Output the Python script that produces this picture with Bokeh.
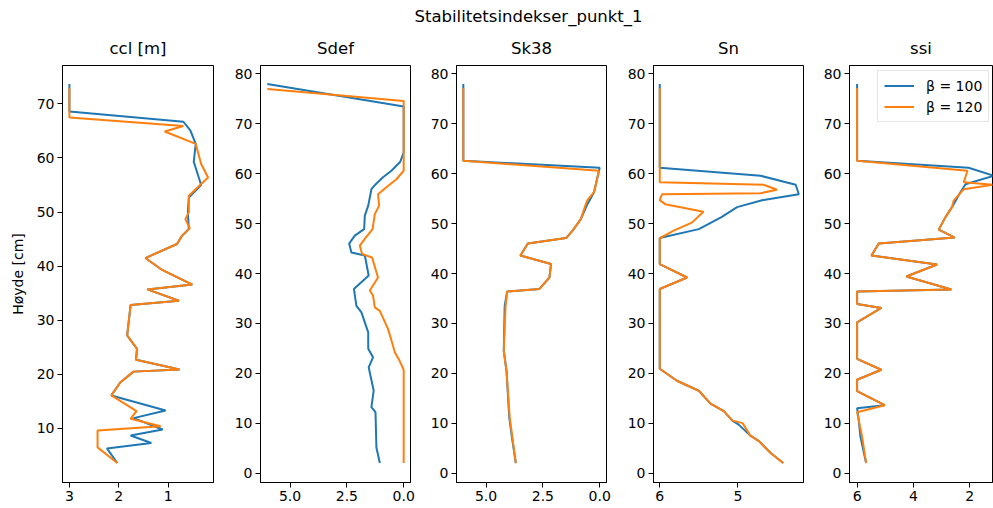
from bokeh.plotting import figure
from bokeh.layouts import row, column
from bokeh.models import Range1d, FixedTicker, NumeralTickFormatter, Legend, LegendItem
from bokeh.embed import file_html
from bokeh.resources import INLINE
from bokeh.core.properties import value

BLUE = "#1f77b4"
ORANGE = "#ff7f0e"
FONT = "DejaVu Sans"

suptitle = "Stabilitetsindekser_punkt_1"
panel_titles = ["ccl [m]", "Sdef", "Sk38", "Sn", "ssi"]
series_labels = ["β = 100", "β = 120"]
y_label = "Høyde [cm]"

# ---- ccl [m]
ccl_b100_y = [73.7, 68.6, 66.7, 65.1, 62.6, 59.3, 55.0, 52.7, 50.0, 46.9, 45.6, 44.1, 41.5, 39.3, 36.6, 35.7, 33.6, 32.8,
              27.2, 24.7, 22.7, 20.9, 20.5, 18.5, 16.1, 13.3, 11.9, 9.8, 8.7, 7.3, 6.3, 3.6]
ccl_b100_x = [3.0, 3.0, 0.69, 0.55, 0.44, 0.48, 0.33, 0.58, 0.60, 0.58, 0.72, 0.82, 1.46, 1.12, 0.51, 1.42, 0.78, 1.76,
              1.83, 1.63, 1.65, 0.77, 1.70, 1.97, 2.15, 1.05, 1.70, 1.11, 1.76, 1.34, 2.24, 2.03]
ccl_b120_y = [73.0, 67.5, 65.9, 64.9, 62.6, 58.9, 56.4, 53.0, 50.0, 48.7, 47.0, 45.6, 44.1, 41.5, 39.3, 36.6, 35.7, 33.6,
              32.8, 27.2, 24.7, 22.7, 20.9, 20.5, 18.5, 16.1, 13.2, 11.8, 10.4, 9.6, 6.5, 3.6]
ccl_b120_x = [3.0, 3.0, 0.69, 1.07, 0.44, 0.33, 0.19, 0.58, 0.58, 0.65, 0.56, 0.72, 0.82, 1.46, 1.12, 0.51, 1.42, 0.78,
              1.76, 1.83, 1.63, 1.65, 0.77, 1.70, 1.97, 2.15, 1.64, 1.76, 1.15, 2.43, 2.43, 2.03]

# ---- Sdef
sdef_b100_y = [78.0, 73.5, 64.3, 62.4, 60.6, 59.3, 57.9, 56.9, 53.6, 51.6, 48.9, 47.6, 46.0, 44.2, 43.6, 39.6, 36.9,
               33.5, 32.2, 28.2, 24.9, 23.2, 21.2, 16.5, 13.2, 12.2, 5.1, 2.0]
sdef_b100_x = [6.0, 0.0, 0.0, 0.15, 0.54, 0.91, 1.23, 1.42, 1.56, 1.71, 1.74, 2.15, 2.40, 2.30, 1.71, 1.54, 2.19,
               2.08, 1.86, 1.56, 1.56, 1.35, 1.54, 1.32, 1.42, 1.24, 1.20, 1.05]
sdef_b120_y = [77.0, 74.6, 60.6, 58.9, 57.3, 55.9, 53.6, 51.9, 48.9, 47.2, 45.6, 43.9, 43.2, 39.2, 36.6, 35.6, 33.2,
               32.5, 28.9, 25.5, 24.2, 22.5, 20.7, 2.0]
sdef_b120_x = [6.0, 0.0, 0.0, 0.32, 0.76, 1.13, 1.08, 1.27, 1.37, 1.67, 1.93, 1.83, 1.39, 1.13, 1.49, 1.35, 1.27,
               1.05, 0.69, 0.47, 0.39, 0.18, 0.0, 0.0]

# ---- Sk38
sk38_b100_y = [78.0, 62.6, 61.2, 56.3, 53.9, 50.9, 48.6, 47.1, 46.0, 43.6, 41.9, 39.2, 36.9, 36.4, 33.5, 24.5, 20.5,
               11.2, 7.1, 2.0]
sk38_b100_x = [6.0, 6.0, 0.0, 0.25, 0.54, 0.83, 1.19, 1.48, 3.16, 3.49, 2.14, 2.21, 2.65, 4.07, 4.18, 4.22, 4.10,
               3.98, 3.86, 3.69]
sk38_b120_y = [77.2, 62.6, 60.6, 56.3, 54.7, 53.9, 50.9, 48.6, 47.1, 46.0, 43.6, 41.9, 39.2, 36.9, 36.4, 33.5, 24.5,
               20.5, 11.2, 7.1, 2.0]
sk38_b120_x = [6.0, 6.0, 0.03, 0.25, 0.54, 0.61, 0.83, 1.19, 1.48, 3.16, 3.49, 2.14, 2.21, 2.65, 4.07, 4.14, 4.22,
               4.10, 3.96, 3.84, 3.69]

# ---- Sn
sn_b100_y = [78.0, 61.2, 59.6, 57.8, 55.9, 54.7, 53.3, 51.3, 48.9, 47.1, 41.9, 39.2, 36.9, 20.9, 18.5, 16.5, 13.9,
             12.4, 10.5, 9.7, 7.5, 6.4, 4.0, 2.0]
sn_b100_x = [6.0, 6.0, 4.71, 4.26, 4.22, 4.69, 5.01, 5.21, 5.50, 6.0, 6.0, 5.65, 6.0, 6.0, 5.78, 5.50, 5.35,
             5.18, 5.07, 4.99, 4.84, 4.73, 4.58, 4.42]
sn_b120_y = [77.2, 58.3, 57.8, 56.8, 56.1, 55.9, 54.7, 53.9, 52.4, 50.2, 48.6, 47.1, 41.9, 39.2, 36.9, 20.9, 18.5,
             16.5, 13.9, 12.4, 10.5, 10.0, 7.5, 6.4, 4.0, 2.0]
sn_b120_x = [6.0, 6.0, 4.67, 4.50, 4.71, 5.97, 6.0, 5.93, 5.44, 5.59, 5.82, 6.0, 6.0, 5.65, 6.0, 6.0, 5.78,
             5.50, 5.35, 5.18, 5.07, 4.94, 4.84, 4.73, 4.58, 4.42]

# ---- ssi
ssi_b100_y = [78.0, 62.6, 61.2, 59.6, 57.9, 56.3, 53.3, 51.3, 48.8, 47.2, 46.0, 43.6, 41.8, 39.4, 36.8, 36.4, 33.9,
              33.1, 30.2, 22.9, 20.7, 18.7, 16.4, 13.6, 13.0, 10.5, 7.2, 2.0]
ssi_b100_x = [6.0, 6.0, 2.04, 1.15, 2.15, 2.33, 2.63, 2.86, 3.10, 2.53, 5.23, 5.49, 3.16, 4.25, 2.65, 6.0, 6.0,
              5.14, 6.0, 6.0, 5.14, 6.0, 6.0, 5.02, 6.0, 5.94, 5.88, 5.68]
ssi_b120_y = [77.2, 62.6, 60.6, 58.3, 57.8, 56.9, 54.6, 53.3, 51.3, 48.8, 47.2, 46.0, 43.6, 41.8, 39.4, 36.8, 36.4,
              33.9, 33.1, 30.2, 22.9, 20.7, 18.7, 16.4, 13.6, 12.2, 7.2, 2.0]
ssi_b120_x = [6.0, 6.0, 2.08, 2.21, 1.18, 2.21, 2.57, 2.63, 2.86, 3.10, 2.53, 5.23, 5.49, 3.16, 4.25, 2.65, 6.0,
              6.0, 5.14, 6.0, 6.0, 5.14, 6.0, 6.0, 5.02, 6.0, 5.82, 5.68]

# ticks
ccl_xticks = [3, 2, 1]
ccl_yticks = [10, 20, 30, 40, 50, 60, 70]
s_xticks = [5.0, 2.5, 0.0]
sn_xticks = [6, 5]
ssi_xticks = [6, 4, 2]
yticks_80 = [0, 10, 20, 30, 40, 50, 60, 70, 80]

series = [
    (ccl_b100_x, ccl_b100_y, ccl_b120_x, ccl_b120_y),
    (sdef_b100_x, sdef_b100_y, sdef_b120_x, sdef_b120_y),
    (sk38_b100_x, sk38_b100_y, sk38_b120_x, sk38_b120_y),
    (sn_b100_x, sn_b100_y, sn_b120_x, sn_b120_y),
    (ssi_b100_x, ssi_b100_y, ssi_b120_x, ssi_b120_y),
]

# layout: (fig width, left border, right border, x range, y range, xticks, yticks, formatter)
layout = [
    (222, 62, 9, (3.14, 0.08), (0.0, 77.1), ccl_xticks, ccl_yticks, None),
    (198, 38, 10, (6.3, -0.3), (-1.9, 81.7), s_xticks, yticks_80, "0.0"),
    (196, 36, 10, (6.3, -0.3), (-1.9, 81.7), s_xticks, yticks_80, "0.0"),
    (197, 37, 10, (6.08, 4.16), (-1.9, 81.7), sn_xticks, yticks_80, None),
    (180, 36, 1, (6.27, 1.19), (-1.9, 81.7), ssi_xticks, yticks_80, None),
]

TOP_H = 27
H = 481
figs = []
for i, (w, lb, rb, xr, yr, xt, yt, fmt) in enumerate(layout):
    p = figure(width=w, height=H, x_range=Range1d(*xr), y_range=Range1d(*yr),
               output_backend="svg", toolbar_location=None, title=panel_titles[i],
               min_border_left=lb, min_border_right=rb, min_border_top=38, min_border_bottom=26)
    p.title.align = "center"
    p.title.text_font = FONT
    p.title.text_font_size = "16.5px"
    p.title.text_font_style = "normal"
    p.title.text_color = "black"
    p.title.standoff = 16
    p.grid.visible = False
    p.outline_line_color = "black"
    p.outline_line_width = 1
    p.background_fill_color = "white"
    p.border_fill_color = "white"
    for ax in (p.xaxis[0], p.yaxis[0]):
        ax.major_label_text_font = FONT
        ax.major_label_text_font_size = "14px"
        ax.major_label_text_color = "black"
        ax.major_tick_out = 5
        ax.major_tick_in = 0
        ax.minor_tick_out = 0
        ax.minor_tick_in = 0
        ax.major_label_standoff = 3
        ax.axis_line_color = "black"
        ax.major_tick_line_color = "black"
    p.xaxis[0].ticker = FixedTicker(ticks=xt)
    p.yaxis[0].ticker = FixedTicker(ticks=yt)
    if fmt:
        p.xaxis[0].formatter = NumeralTickFormatter(format=fmt)
    if i == 0:
        p.yaxis[0].axis_label = y_label
        p.yaxis[0].axis_label_text_font = FONT
        p.yaxis[0].axis_label_text_font_size = "14px"
        p.yaxis[0].axis_label_text_font_style = "normal"
        p.yaxis[0].axis_label_text_color = "black"
        p.yaxis[0].axis_label_standoff = 8
    bx, by, ox, oy = series[i]
    r1 = p.line(bx, by, line_color=BLUE, line_width=2)
    r2 = p.line(ox, oy, line_color=ORANGE, line_width=2)
    if i == 4:
        leg = Legend(items=[LegendItem(label=series_labels[0], renderers=[r1]),
                            LegendItem(label=series_labels[1], renderers=[r2])],
                     location=(28, 360))
        leg.label_text_font = FONT
        leg.label_text_font_size = "14px"
        leg.label_text_color = "black"
        leg.glyph_width = 30
        leg.glyph_height = 17
        leg.label_standoff = 12
        leg.padding = 6
        leg.spacing = 4
        leg.margin = 0
        leg.border_line_color = "#cccccc"
        leg.border_line_width = 1
        leg.background_fill_alpha = 0.8
        p.add_layout(leg)
    figs.append(p)

top = figure(width=993, height=TOP_H, x_range=Range1d(0, 993), y_range=Range1d(0, TOP_H),
             output_backend="svg", toolbar_location=None, min_border=0)
top.axis.visible = False
top.grid.visible = False
top.outline_line_color = None
top.text(x=[528], y=[TOP_H - 16], text=[suptitle], text_align="center", text_baseline="middle",
         text_font=value(FONT), text_font_size="16.5px", text_color="black")

layout_all = column(top, row(*figs, spacing=0), spacing=0)
open("out.html", "w").write(file_html(layout_all, INLINE))
